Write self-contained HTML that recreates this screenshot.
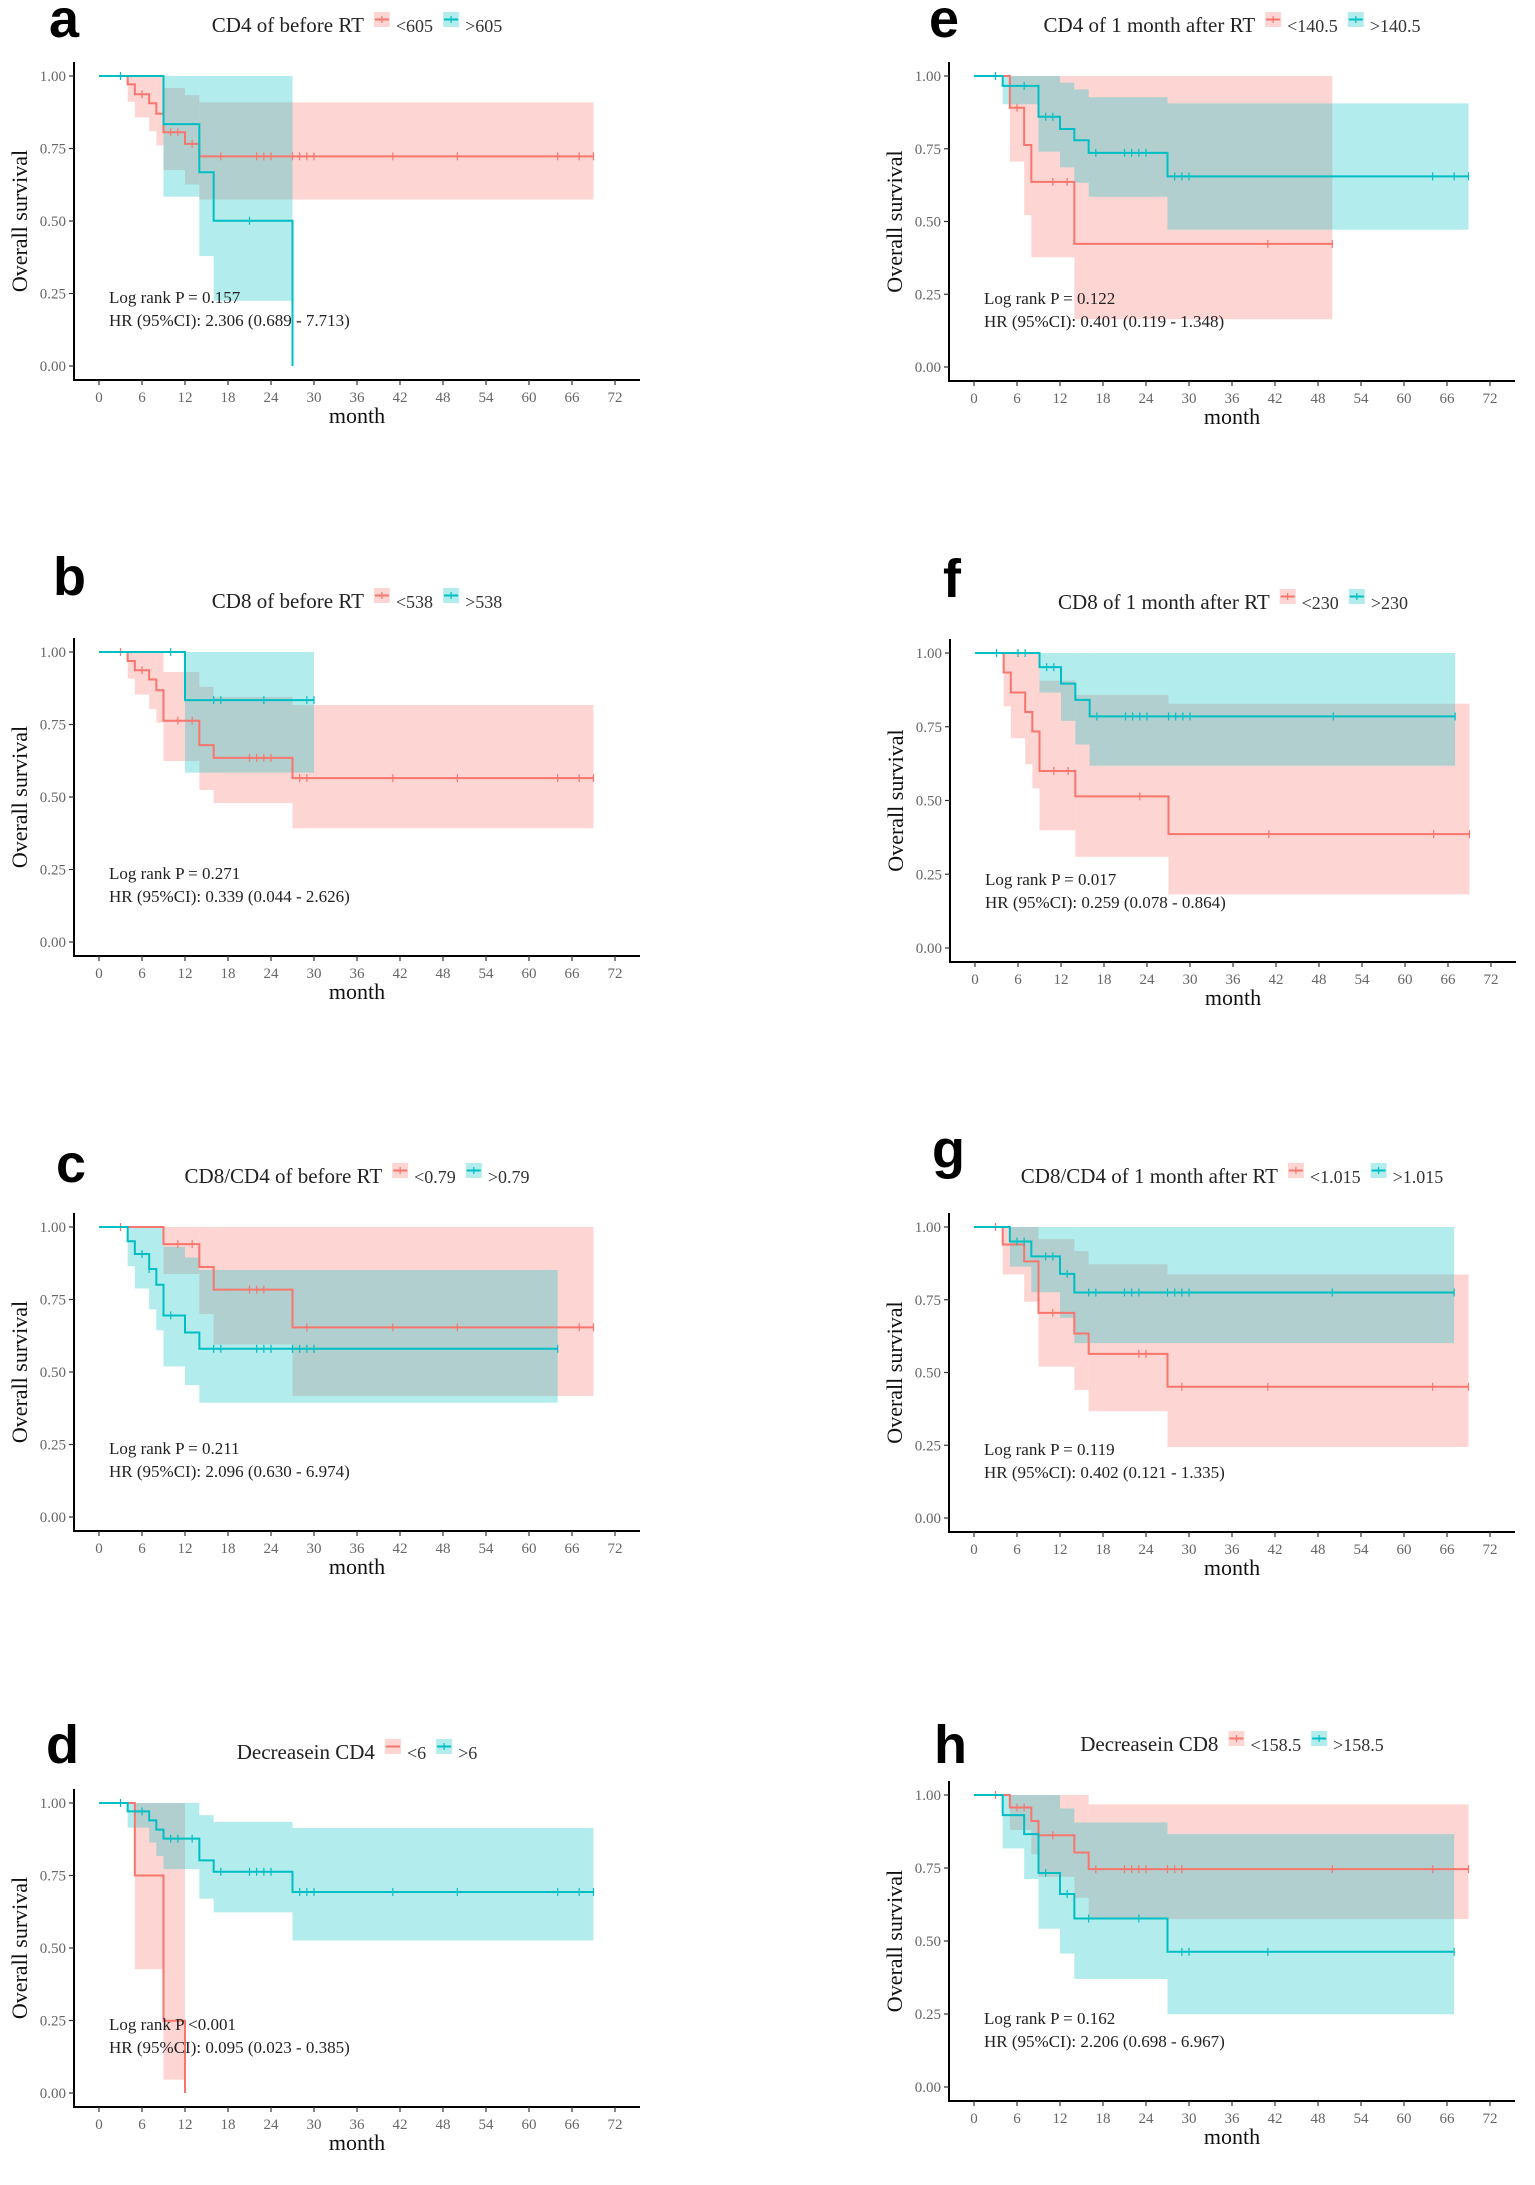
<!DOCTYPE html>
<html><head><meta charset="utf-8"><style>
html,body{margin:0;padding:0;background:#fff;}
svg{display:block;}
text{font-family:"Liberation Serif",serif;}
</style></head><body>
<svg id="fig" width="1535" height="2185" viewBox="0 0 1535 2185" xmlns="http://www.w3.org/2000/svg"></svg>
<script>
// ---- data (time in months, survival probability) ----
const xTicks=[0,6,12,18,24,30,36,42,48,54,60,66,72];
const yTicks=[0,0.25,0.5,0.75,1];
const yTickLabels=["0.00","0.25","0.50","0.75","1.00"];

const aRedT=[0,4,5,7,8,9,12,14], aRedS=[1,.971,.937,.906,.87,.806,.766,.723], aRedU=[1,1,1,1,1,.959,.934,.909], aRedL=[1,.911,.857,.81,.761,.676,.626,.574], aRedE=69, aRedC=[6,10,11,13,17,22,23,24,27,28,29,30,41,50,64,67,69];
const aTealT=[0,9,14,16,27], aTealS=[1,.834,.668,.501,0], aTealU=[1,1,1,1,0], aTealL=[1,.584,.379,.225,0], aTealE=27, aTealC=[3,21];

const bRedT=[0,4,5,7,8,9,14,16,27], bRedS=[1,.969,.937,.905,.868,.763,.679,.635,.565], bRedU=[1,1,1,1,1,.931,.88,.845,.817], bRedL=[1,.908,.853,.803,.756,.624,.524,.479,.392], bRedE=69, bRedC=[3,6,11,13,21,22,23,24,28,29,41,50,64,67,69];
const bTealT=[0,12], bTealS=[1,.834], bTealU=[1,1], bTealL=[1,.584], bTealE=30, bTealC=[10,16,17,23,29,30];

const cRedT=[0,9,14,16,27], cRedS=[1,.941,.862,.784,.654], cRedU=[1,1,1,1,1], cRedL=[1,.838,.7,.595,.417], cRedE=69, cRedC=[3,11,13,21,22,23,29,41,50,67,69];
const cTealT=[0,4,5,7,8,9,12,14], cTealS=[1,.951,.907,.855,.801,.695,.636,.58], cTealU=[1,1,1,1,1,.932,.895,.852], cTealL=[1,.865,.788,.716,.644,.519,.455,.394], cTealE=64, cTealC=[6,7,10,16,17,22,23,24,27,28,29,30,64];

const dRedT=[0,5,9,12], dRedS=[1,.75,.249,0], dRedU=[1,1,1,0], dRedL=[1,.427,.046,0], dRedE=12, dRedC=[];
const dTealT=[0,4,7,8,9,14,16,27], dTealS=[1,.971,.94,.908,.877,.802,.763,.693], dTealU=[1,1,1,1,1,.958,.935,.914], dTealL=[1,.915,.864,.817,.772,.67,.623,.526], dTealE=69, dTealC=[3,6,10,11,13,17,21,22,23,24,28,29,30,41,50,64,67,69];

const eRedT=[0,5,7,8,14], eRedS=[1,.891,.763,.636,.423], eRedU=[1,1,1,1,1], eRedL=[1,.706,.522,.377,.164], eRedE=50, eRedC=[6,11,13,41,50];
const eTealT=[0,4,9,12,14,16,27], eTealS=[1,.966,.86,.818,.779,.736,.655], eTealU=[1,1,1,.977,.954,.927,.906], eTealL=[1,.903,.74,.686,.633,.585,.472], eTealE=69, eTealC=[3,7,10,11,17,21,22,23,24,28,29,30,64,67,69];

const fRedT=[0,4,5,7,8,9,14,27], fRedS=[1,.934,.866,.8,.734,.6,.514,.386], fRedU=[1,1,1,1,1,.906,.858,.828], fRedL=[1,.819,.711,.623,.541,.399,.309,.182], fRedE=69, fRedC=[11,13,23,41,64,69];
const fTealT=[0,9,12,14,16], fTealS=[1,.952,.896,.841,.785], fTealU=[1,1,1,1,1], fTealL=[1,.866,.77,.69,.618], fTealE=67, fTealC=[3,6,7,10,11,17,21,22,23,24,27,28,29,30,50,67];

const gRedT=[0,4,7,9,14,16,27], gRedS=[1,.94,.882,.705,.634,.564,.451], gRedU=[1,1,1,.958,.917,.872,.837], gRedL=[1,.837,.743,.52,.44,.367,.244], gRedE=69, gRedC=[3,11,23,24,29,41,64,69];
const gTealT=[0,5,8,12,14], gTealS=[1,.95,.899,.839,.775], gTealU=[1,1,1,1,1], gTealL=[1,.864,.776,.688,.601], gTealE=67, gTealC=[6,7,10,11,13,16,17,21,22,23,27,28,29,30,50,67];

const hRedT=[0,5,8,9,14,16], hRedS=[1,.957,.911,.862,.803,.746], hRedU=[1,1,1,1,1,.968], hRedL=[1,.88,.797,.72,.648,.575], hRedE=69, hRedC=[3,6,7,11,17,21,22,23,24,27,28,29,50,64,69];
const hTealT=[0,4,7,9,12,14,27], hTealS=[1,.931,.866,.733,.661,.577,.463], hTealU=[1,1,1,1,.954,.906,.866], hTealL=[1,.817,.712,.542,.457,.37,.249], hTealE=67, hTealC=[10,13,16,23,29,30,41,67];

const panelLetters=["a","b","c","d","e","f","g","h"];
const panelTitles=["CD4 of before RT","CD8 of before RT","CD8/CD4 of before RT","Decreasein CD4","CD4 of 1 month after RT","CD8 of 1 month after RT","CD8/CD4 of 1 month after RT","Decreasein CD8"];
const legendLow=["<605","<538","<0.79","<6","<140.5","<230","<1.015","<158.5"];
const legendHigh=[">605",">538",">0.79",">6",">140.5",">230",">1.015",">158.5"];
const pText=["Log rank P = 0.157","Log rank P = 0.271","Log rank P = 0.211","Log rank P <0.001","Log rank P = 0.122","Log rank P = 0.017","Log rank P = 0.119","Log rank P = 0.162"];
const hrText=["HR (95%CI): 2.306 (0.689 - 7.713)","HR (95%CI): 0.339 (0.044 - 2.626)","HR (95%CI): 2.096 (0.630 - 6.974)","HR (95%CI): 0.095 (0.023 - 0.385)","HR (95%CI): 0.401 (0.119 - 1.348)","HR (95%CI): 0.259 (0.078 - 0.864)","HR (95%CI): 0.402 (0.121 - 1.335)","HR (95%CI): 2.206 (0.698 - 6.967)"];

const NS="http://www.w3.org/2000/svg";
const svg=document.getElementById("fig");
const RED="#F8766D", TEAL="#00BFC4";
function mk(tag,attrs,parent){const e=document.createElementNS(NS,tag);for(const k in attrs)e.setAttribute(k,attrs[k]);(parent||svg).appendChild(e);return e;}

const panels=[
 {ox:74,y1:76,y0:366,lx:49,ly:37,red:[aRedT,aRedS,aRedU,aRedL,aRedE,aRedC],teal:[aTealT,aTealS,aTealU,aTealL,aTealE,aTealC]},
 {ox:74,y1:652,y0:942,lx:53,ly:595,red:[bRedT,bRedS,bRedU,bRedL,bRedE,bRedC],teal:[bTealT,bTealS,bTealU,bTealL,bTealE,bTealC]},
 {ox:74,y1:1227,y0:1517,lx:56,ly:1182,red:[cRedT,cRedS,cRedU,cRedL,cRedE,cRedC],teal:[cTealT,cTealS,cTealU,cTealL,cTealE,cTealC]},
 {ox:74,y1:1803,y0:2093,lx:46,ly:1763,red:[dRedT,dRedS,dRedU,dRedL,dRedE,dRedC],teal:[dTealT,dTealS,dTealU,dTealL,dTealE,dTealC]},
 {ox:949,y1:76,y0:367,lx:929,ly:37,red:[eRedT,eRedS,eRedU,eRedL,eRedE,eRedC],teal:[eTealT,eTealS,eTealU,eTealL,eTealE,eTealC]},
 {ox:950,y1:653,y0:948,lx:943,ly:597,red:[fRedT,fRedS,fRedU,fRedL,fRedE,fRedC],teal:[fTealT,fTealS,fTealU,fTealL,fTealE,fTealC]},
 {ox:949,y1:1227,y0:1518,lx:932,ly:1168,red:[gRedT,gRedS,gRedU,gRedL,gRedE,gRedC],teal:[gTealT,gTealS,gTealU,gTealL,gTealE,gTealC]},
 {ox:949,y1:1795,y0:2087,lx:934,ly:1763,red:[hRedT,hRedS,hRedU,hRedL,hRedE,hRedC],teal:[hTealT,hTealS,hTealU,hTealL,hTealE,hTealC]}
];

function survAt(T,S,t){let v=S[0];for(let i=0;i<T.length;i++){if(T[i]<=t)v=S[i];}return v;}

panels.forEach((p,idx)=>{
  const g=mk("g",{});
  
  
  const X=t=>p.ox+25+t*(516/72);
  const Y=v=>p.y0-v*(p.y0-p.y1);
  const axisY=p.y0+14, axisTop=p.y1-14, axisEnd=p.ox+566;

  const L=mk("text",{x:p.lx,y:p.ly,"font-size":54,"font-weight":"bold",fill:"#000",style:"font-family:'Liberation Sans',sans-serif"},g);
  L.textContent=panelLetters[idx];
  
  

  const tg=mk("g",{},g);
  
  
  const ty=p.y1-44;
  let cx=0;
  const tt=mk("text",{x:0,y:ty,"font-size":21,fill:"#222"},tg);tt.textContent=panelTitles[idx];
  
  
  cx+=tt.getComputedTextLength()+10;
  [[RED,legendLow[idx],'legend-entry-low'],[TEAL,legendHigh[idx],'legend-entry-high']].forEach(([col,lab,nm])=>{
    const eg=mk("g",{},tg);
    
    
    mk("rect",{x:cx,y:ty-20,width:16,height:15,fill:col,"fill-opacity":0.3},eg);
    mk("line",{x1:cx+1,x2:cx+15,y1:ty-12.5,y2:ty-12.5,stroke:col,"stroke-width":2},eg);
    if(!(idx===3&&col===RED))mk("line",{x1:cx+8,x2:cx+8,y1:ty-16,y2:ty-9,stroke:col,"stroke-width":1.2},eg);
    const lt=mk("text",{x:cx+22,y:ty,"font-size":18,fill:"#333"},eg);lt.textContent=lab;
    cx+=22+lt.getComputedTextLength()+10;
  });
  const total=cx-10;
  tg.setAttribute("transform","translate("+(p.ox+283-total/2)+",0)");

  [[p.red,RED,'red'],[p.teal,TEAL,'teal']].forEach(([s,col,nm])=>{
    const [T,S,U,Lo,E]=s;
    for(let i=0;i<T.length;i++){
      const t1=T[i], t2=(i+1<T.length)?T[i+1]:E;
      if(U[i]-Lo[i]<=0.001||t2<=t1)continue;
      const r=mk("rect",{x:X(t1),y:Y(U[i]),width:X(t2)-X(t1),height:Y(Lo[i])-Y(U[i]),fill:col,"fill-opacity":0.3},g);
      
      
    }
  });
  [[p.red,RED,'red'],[p.teal,TEAL,'teal']].forEach(([s,col,nm])=>{
    const [T,S,U,Lo,E,C]=s;
    let d="M"+X(0)+" "+Y(S[0]);
    for(let i=1;i<T.length;i++){d+=" H"+X(T[i])+" V"+Y(S[i]);}
    d+=" H"+X(E);
    const pa=mk("path",{d:d,fill:"none",stroke:col,"stroke-width":2},g);
    
    
    C.forEach(t=>{
      const v=survAt(T,S,t);
      const m=mk("line",{x1:X(t),x2:X(t),y1:Y(v)-4,y2:Y(v)+4,stroke:col,"stroke-width":1.2},g);
      
      
    });
  });

  const ax=mk("path",{d:"M"+p.ox+" "+axisTop+" V"+axisY+" H"+axisEnd,fill:"none",stroke:"#000","stroke-width":2},g);
  
  
  xTicks.forEach(t=>{
    mk("line",{x1:X(t),x2:X(t),y1:axisY,y2:axisY+5,stroke:"#333","stroke-width":1.2},g);
    const tx=mk("text",{x:X(t),y:axisY+22,"font-size":15,fill:"#666","text-anchor":"middle"},g);
    tx.textContent=t;
    
    
  });
  yTicks.forEach((v,i)=>{
    mk("line",{x1:p.ox-5,x2:p.ox,y1:Y(v),y2:Y(v),stroke:"#333","stroke-width":1.2},g);
    const tx=mk("text",{x:p.ox-8,y:Y(v)+5,"font-size":15,fill:"#666","text-anchor":"end"},g);
    tx.textContent=yTickLabels[i];
    
    
  });
  const xl=mk("text",{x:p.ox+283,y:p.y0+57,"font-size":22,fill:"#111","text-anchor":"middle"},g);
  xl.textContent="month";
  
  
  const ycy=(p.y0+p.y1)/2;
  const yl=mk("text",{x:p.ox-47,y:ycy,"font-size":22,fill:"#111","text-anchor":"middle",transform:"rotate(-90 "+(p.ox-47)+" "+ycy+")"},g);
  yl.textContent="Overall survival";
  
  
  const s1=mk("text",{x:p.ox+35,y:p.y0-63,"font-size":17,fill:"#222"},g);
  s1.textContent=pText[idx];
  
  
  const s2=mk("text",{x:p.ox+35,y:p.y0-40,"font-size":17,fill:"#222"},g);
  s2.textContent=hrText[idx];
  
  
});
</script>
</body></html>
